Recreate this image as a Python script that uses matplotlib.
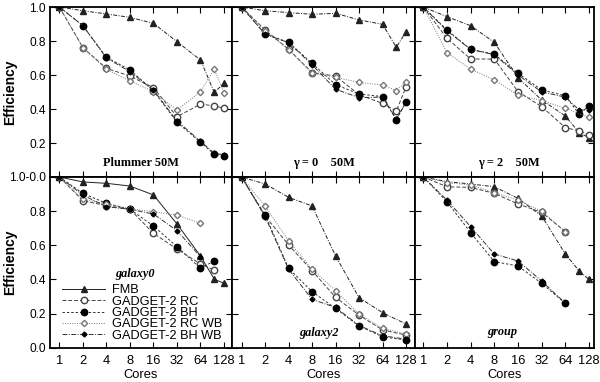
import numpy as np
import matplotlib
matplotlib.use("Agg")
import matplotlib.pyplot as plt

plt.rcParams['font.family'] = ['Liberation Sans', 'DejaVu Sans']

# ---- data ----
tick_cores = [1, 2, 4, 8, 16, 32, 64, 128]
tick_labels = ['1', '2', '4', '8', '16', '32', '64', '128']
c9 = [1, 2, 4, 8, 16, 32, 64, 96, 128]
c8 = [1, 2, 4, 8, 16, 32, 64, 128]
c7 = [1, 2, 4, 8, 16, 32, 64]
c7b = [1, 2, 4, 8, 16, 32, 64, 96]

series_names = ['FMB', 'GADGET-2 RC', 'GADGET-2 BH', 'GADGET-2 RC WB', 'GADGET-2 BH WB']

# Plummer 50M
plummer_fmb = [1.0, 0.978, 0.959, 0.939, 0.904, 0.796, 0.688, 0.498, 0.551]
plummer_rc = [1.0, 0.761, 0.639, 0.594, 0.525, 0.355, 0.428, 0.419, 0.404]
plummer_bh = [1.0, 0.890, 0.704, 0.630, 0.508, 0.322, 0.204, 0.134, 0.125]
plummer_rcwb = [1.0, 0.760, 0.633, 0.565, 0.502, 0.394, 0.502, 0.635, 0.496]
plummer_bhwb = [1.0, 0.890, 0.700, 0.620, 0.510, 0.330, 0.210, 0.140, 0.130]

# gamma = 0, 50M
g0_fmb = [1.0, 0.978, 0.967, 0.957, 0.963, 0.924, 0.898, 0.763, 0.855]
g0_rc = [1.0, 0.865, 0.751, 0.614, 0.594, 0.484, 0.433, 0.388, 0.530]
g0_bh = [1.0, 0.841, 0.792, 0.669, 0.543, 0.488, 0.473, 0.335, 0.443]
g0_rcwb = [1.0, 0.860, 0.750, 0.610, 0.586, 0.557, 0.541, 0.508, 0.561]
g0_bhwb = [1.0, 0.840, 0.790, 0.660, 0.516, 0.467, 0.470, 0.340, 0.440]

# gamma = 2, 50M
g2_fmb = [1.0, 0.943, 0.890, 0.792, 0.584, 0.453, 0.359, 0.261, 0.231]
g2_rc = [1.0, 0.816, 0.694, 0.694, 0.502, 0.414, 0.290, 0.272, 0.247]
g2_bh = [1.0, 0.865, 0.751, 0.722, 0.610, 0.512, 0.478, 0.369, 0.420]
g2_rcwb = [1.0, 0.731, 0.635, 0.571, 0.482, 0.450, 0.404, 0.351]
g2_bhwb = [1.0, 0.860, 0.750, 0.720, 0.600, 0.500, 0.470, 0.394, 0.394]

# galaxy0
gal0_fmb = [1.0, 0.971, 0.963, 0.947, 0.895, 0.725, 0.537, 0.402, 0.377]
gal0_rc = [1.0, 0.861, 0.832, 0.811, 0.670, 0.578, 0.490, 0.455]
gal0_bh = [1.0, 0.904, 0.846, 0.811, 0.713, 0.592, 0.465, 0.508]
gal0_rcwb = [1.0, 0.869, 0.842, 0.814, 0.797, 0.777, 0.729]
gal0_bhwb = [1.0, 0.894, 0.826, 0.811, 0.783, 0.686, 0.533]

# galaxy2
gal2_fmb = [1.0, 0.959, 0.881, 0.830, 0.537, 0.293, 0.205, 0.139]
gal2_rc = [1.0, 0.771, 0.602, 0.451, 0.295, 0.191, 0.104, 0.074]
gal2_bh = [1.0, 0.777, 0.465, 0.328, 0.230, 0.127, 0.064, 0.045]
gal2_rcwb = [1.0, 0.830, 0.625, 0.459, 0.334, 0.197, 0.113, 0.080]
gal2_bhwb = [1.0, 0.768, 0.459, 0.283, 0.236, 0.130, 0.070, 0.050]

# group
grp_fmb = [1.0, 0.973, 0.959, 0.943, 0.875, 0.772, 0.549, 0.449, 0.400]
grp_rc = [1.0, 0.943, 0.939, 0.904, 0.842, 0.793, 0.680]
grp_bh = [1.0, 0.855, 0.674, 0.504, 0.479, 0.377, 0.260]
grp_rcwb = [1.0, 0.967, 0.953, 0.908, 0.865, 0.800, 0.680]
grp_bhwb = [1.0, 0.865, 0.709, 0.549, 0.508, 0.391, 0.260]

dashdot = (0, (4, 1.5, 1, 1.5))
panels = [
    dict(title='Plummer 50M', style='normal', pos=(141, 163),
         data=[(c9, plummer_fmb), (c9, plummer_rc), (c9, plummer_bh), (c9, plummer_rcwb), (c9, plummer_bhwb)],
         fmb_ls=dashdot),
    dict(title='γ = 0    50M', style='normal', pos=(324, 163),
         data=[(c9, g0_fmb), (c9, g0_rc), (c9, g0_bh), (c9, g0_rcwb), (c9, g0_bhwb)],
         fmb_ls=dashdot),
    dict(title='γ = 2    50M', style='normal', pos=(509, 163),
         data=[(c9, g2_fmb), (c9, g2_rc), (c9, g2_bh), (c8, g2_rcwb), (c9, g2_bhwb)],
         fmb_ls=dashdot),
    dict(title='galaxy0', style='italic', pos=(135, 274),
         data=[(c9, gal0_fmb), (c7b, gal0_rc), (c7b, gal0_bh), (c7, gal0_rcwb), (c7, gal0_bhwb)],
         fmb_ls='-'),
    dict(title='galaxy2', style='italic', pos=(319, 333),
         data=[(c8, gal2_fmb), (c8, gal2_rc), (c8, gal2_bh), (c8, gal2_rcwb), (c8, gal2_bhwb)],
         fmb_ls=dashdot),
    dict(title='group', style='italic', pos=(502, 332),
         data=[(c9, grp_fmb), (c7, grp_rc), (c7, grp_bh), (c7, grp_rcwb), (c7, grp_bhwb)],
         fmb_ls=dashdot),
]

W, H = 600, 382
fig = plt.figure(figsize=(W / 100, H / 100), dpi=100)

cols = [(50, 232, -0.40, 7.34), (232, 415, -0.41, 7.38), (415, 594, -0.35, 7.21)]
rows = [(7, 177), (177, 347.7)]

dark = '#222222'
styles = [
    dict(marker='^', ms=4.0, mfc=dark, mec=dark, color=dark),
    dict(marker='o', ms=4.6, mfc='white', mec='#444444', color='#444444', ls=(0, (4, 2))),
    dict(marker='o', ms=4.6, mfc='black', mec='black', color='#333333', ls=(0, (2.5, 2))),
    dict(marker='D', ms=3.2, mfc='white', mec='#777777', color='#777777', ls=(0, (1, 1.5))),
    dict(marker='D', ms=2.5, mfc='black', mec='black', color='#333333', ls=(0, (5, 1.5, 1, 1.5))),
]

axes = []
for k, p in enumerate(panels):
    r, c = divmod(k, 3)
    x0, x1, xl0, xl1 = cols[c]
    y0, y1 = rows[r]
    ax = fig.add_axes([x0 / W, 1 - y1 / H, (x1 - x0) / W, (y1 - y0) / H])
    axes.append(ax)
    for j, (cores, vals) in enumerate(p['data']):
        st = dict(styles[j])
        if j == 0:
            st['ls'] = p['fmb_ls']
        xs = np.log2(cores)
        ax.plot(xs, vals, lw=0.7, label=series_names[j], **st)
    ax.set_xlim(xl0, xl1)
    ax.set_ylim(0, 1)
    ax.set_xticks(np.log2(tick_cores))
    ax.set_yticks([0, 0.2, 0.4, 0.6, 0.8, 1.0])
    ax.tick_params(direction='in', top=True, right=True, length=4, width=0.8,
                   colors='black')
    ax.tick_params(axis='x', pad=5, labelsize=9.3)
    ax.tick_params(axis='y', pad=3, labelsize=8.6)
    for s in ax.spines.values():
        s.set_linewidth(1.3)
    if r == 1:
        ax.set_xticklabels(tick_labels)
        ax.set_xlabel('Cores', fontsize=9.3, labelpad=2)
    else:
        ax.set_xticklabels([])
    if c == 0:
        if r == 0:
            ax.set_yticklabels(['', '0.2', '0.4', '0.6', '0.8', '1.0'])
        else:
            ax.set_yticklabels(['0.0', '0.2', '0.4', '0.6', '0.8', '1.0-0.0'])
        ax.set_ylabel('Efficiency', fontsize=10, fontweight='bold')
        ax.yaxis.set_label_coords(-33 / (x1 - x0), 0.5)
    else:
        ax.set_yticklabels([])
    tx, ty = p['pos']
    fig.text(tx / W, 1 - ty / H, p['title'], ha='center', va='center',
             fontsize=8.8, family=['Liberation Serif', 'DejaVu Serif'],
             fontweight='bold', style=p['style'])

leg = axes[3].legend(loc='lower left', bbox_to_anchor=(0.065, 0.035), frameon=False,
                     fontsize=9.2, handlelength=3.4, handletextpad=0.5,
                     labelspacing=-0.05, borderpad=0.0, borderaxespad=0.0)

fig.savefig('out.png', dpi=100)
